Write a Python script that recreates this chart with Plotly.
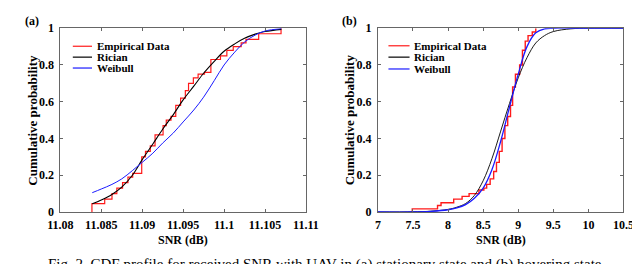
import plotly.graph_objects as go

W, H = 640, 264

# ---------------- data ----------------
# Panel (a): stationary
emp_a_x = [11.08386, 11.08386, 11.08542, 11.08631, 11.08690, 11.08760, 11.08826, 11.08884,
           11.08994, 11.09040, 11.09099, 11.09157, 11.09255, 11.09294, 11.09352, 11.09410,
           11.09469, 11.09527, 11.09566, 11.09625, 11.09683, 11.09761, 11.09839, 11.09956,
           11.10034, 11.10112, 11.10209, 11.10268, 11.10423, 11.10696]
emp_a_y = [0.0, 0.045, 0.07, 0.10, 0.13, 0.16, 0.19, 0.21,
           0.30, 0.33, 0.36, 0.42, 0.47, 0.50, 0.52, 0.58,
           0.62, 0.66, 0.70, 0.73, 0.75, 0.76, 0.83, 0.85,
           0.88, 0.90, 0.92, 0.94, 0.97, 1.00]
ric_a_x = [11.0839, 11.085, 11.0863, 11.0875, 11.0888, 11.09, 11.0913, 11.0925, 11.0938,
           11.095, 11.0963, 11.0975, 11.0988, 11.1, 11.1013, 11.1025, 11.1038, 11.105, 11.107]
ric_a_y = [0.045, 0.065, 0.095, 0.135, 0.20, 0.285, 0.37, 0.45, 0.53,
           0.61, 0.685, 0.755, 0.82, 0.875, 0.915, 0.945, 0.968, 0.982, 0.994]
wei_a_x = [11.0839, 11.085, 11.0863, 11.0875, 11.0888, 11.09, 11.0913, 11.0925, 11.0938,
           11.095, 11.0963, 11.0975, 11.0988, 11.1, 11.1013, 11.1025, 11.1038, 11.105, 11.107]
wei_a_y = [0.105, 0.125, 0.15, 0.18, 0.225, 0.27, 0.32, 0.375, 0.43,
           0.49, 0.555, 0.625, 0.715, 0.80, 0.87, 0.925, 0.963, 0.985, 0.998]

# Panel (b): hovering
emp_b_x = [7.49, 7.49, 7.85, 7.90, 8.08, 8.20, 8.30, 8.44, 8.51, 8.55, 8.60, 8.65, 8.69,
           8.73, 8.77, 8.81, 8.85, 8.89, 8.92, 8.96, 9.02, 9.06, 9.10, 9.14, 9.20, 9.25]
emp_b_y = [0.0, 0.017, 0.035, 0.05, 0.07, 0.085, 0.10, 0.12, 0.13, 0.15, 0.18, 0.22, 0.27,
           0.33, 0.40, 0.47, 0.52, 0.58, 0.68, 0.75, 0.80, 0.88, 0.93, 0.96, 0.98, 1.00]
ric_b_x = [7.0, 7.5, 7.75, 8.0, 8.125, 8.25, 8.375, 8.5, 8.625, 8.75, 8.875, 9.0,
           9.125, 9.25, 9.375, 9.5, 9.75, 10.0, 10.5]
ric_b_y = [0.0, 0.001, 0.004, 0.014, 0.026, 0.046, 0.09, 0.17, 0.29, 0.44, 0.59, 0.73,
           0.84, 0.92, 0.96, 0.982, 0.997, 1.0, 1.0]
wei_b_x = [7.0, 7.5, 7.75, 8.0, 8.125, 8.25, 8.375, 8.5, 8.625, 8.75, 8.875, 9.0,
           9.125, 9.25, 9.375, 9.5, 9.75, 10.0, 10.5]
wei_b_y = [0.0, 0.0, 0.003, 0.012, 0.022, 0.04, 0.075, 0.13, 0.23, 0.385, 0.57, 0.75,
           0.90, 0.975, 0.997, 1.0, 1.0, 1.0, 1.0]

xticks_a = [11.08, 11.085, 11.09, 11.095, 11.1, 11.105, 11.11]
xtext_a = ["11.08", "11.085", "11.09", "11.095", "11.1", "11.105", "11.11"]
xticks_b = [7, 7.5, 8, 8.5, 9, 9.5, 10, 10.5]
xtext_b = ["7", "7.5", "8", "8.5", "9", "9.5", "10", "10.5"]
yticks = [0, 0.2, 0.4, 0.6, 0.8, 1]
ytext = ["0", "0.2", "0.4", "0.6", "0.8", "1"]
legend_names = ["Empirical Data", "Rician", "Weibull"]
panel_labels = ["(a)", "(b)"]
x_title = "SNR (dB)"
y_title = "Cumulative probability"
caption = "Fig. 2. CDF profile for received SNR with UAV in (a) stationary state and (b) hovering state."

# ---------------- layout helpers ----------------
def px(x):
    return x / W

def py(y):
    return 1 - y / H

FONT = "Times New Roman, Liberation Serif, serif"
RED, BLACK, BLUE = "#ff1a1a", "#000000", "#1a1aff"
AX = "#666666"

fig = go.Figure()

fig.add_trace(go.Scatter(x=emp_a_x, y=emp_a_y, mode="lines", line=dict(color=RED, width=1.2, shape="hv"),
                         xaxis="x", yaxis="y", showlegend=False))
fig.add_trace(go.Scatter(x=ric_a_x, y=ric_a_y, mode="lines", line=dict(color=BLACK, width=1.1, shape="spline"),
                         xaxis="x", yaxis="y", showlegend=False))
fig.add_trace(go.Scatter(x=wei_a_x, y=wei_a_y, mode="lines", line=dict(color=BLUE, width=1.0, shape="spline"),
                         xaxis="x", yaxis="y", showlegend=False))

fig.add_trace(go.Scatter(x=emp_b_x, y=emp_b_y, mode="lines", line=dict(color=RED, width=1.4, shape="hv"),
                         xaxis="x2", yaxis="y2", showlegend=False))
fig.add_trace(go.Scatter(x=ric_b_x, y=ric_b_y, mode="lines", line=dict(color=BLACK, width=0.9, shape="spline"),
                         xaxis="x2", yaxis="y2", showlegend=False))
fig.add_trace(go.Scatter(x=wei_b_x, y=wei_b_y, mode="lines", line=dict(color=BLUE, width=1.3, shape="spline"),
                         xaxis="x2", yaxis="y2", showlegend=False))

tickfont = dict(family=FONT, size=12, color="black", weight="bold")
common = dict(showgrid=False, zeroline=False, showline=True, linecolor=AX, linewidth=1,
              mirror="ticks", ticks="inside", ticklen=3, tickcolor=AX, tickfont=tickfont)

fig.update_layout(
    width=W, height=H,
    margin=dict(l=0, r=0, t=0, b=0),
    paper_bgcolor="white", plot_bgcolor="white",
    xaxis=dict(domain=[px(41), px(297)], range=[11.08, 11.11], tickvals=xticks_a, ticktext=xtext_a,
               anchor="y", ticklabelstandoff=2, **common),
    yaxis=dict(domain=[py(208), py(14)], range=[0, 1], tickvals=yticks, ticktext=ytext,
               anchor="x", ticklabelstandoff=3, **common),
    xaxis2=dict(domain=[px(372), px(628)], range=[7, 10.5], tickvals=xticks_b, ticktext=xtext_b,
                anchor="y2", ticklabelstandoff=2, **common),
    yaxis2=dict(domain=[py(208), py(14)], range=[0, 1], tickvals=yticks, ticktext=ytext,
                anchor="x2", ticklabelstandoff=3, **common),
)

annots = []
shapes = []
colors = [RED, BLACK, BLUE]
for (lx0, lx1, tx), rows in [((54, 74, 77), [33, 44.5, 56]), ((383, 405, 408), [32.5, 44.5, 57])]:
    for name, c, ry in zip(legend_names, colors, rows):
        shapes.append(dict(type="line", xref="paper", yref="paper", x0=px(lx0), x1=px(lx1),
                           y0=py(ry), y1=py(ry), line=dict(color=c, width=1.2)))
        annots.append(dict(text=name, xref="paper", yref="paper", x=px(tx), y=py(ry),
                           xanchor="left", yanchor="middle", showarrow=False,
                           font=dict(family=FONT, size=11, color="black", weight="bold")))

for lab, lx in zip(panel_labels, [2, 333]):
    annots.append(dict(text=lab, xref="paper", yref="paper", x=px(lx), y=py(6), xanchor="left",
                       yanchor="middle", showarrow=False,
                       font=dict(family=FONT, size=12, color="black", weight="bold")))

for cx in [169, 500]:
    annots.append(dict(text=x_title, xref="paper", yref="paper", x=px(cx), y=py(238), xanchor="center",
                       yanchor="middle", showarrow=False,
                       font=dict(family=FONT, size=12, color="black", weight="bold")))

for cx in [12, 342]:
    annots.append(dict(text=y_title, xref="paper", yref="paper", x=px(cx), y=py(111), xanchor="center",
                       yanchor="middle", textangle=-90, showarrow=False,
                       font=dict(family=FONT, size=13, color="black", weight="bold")))

annots.append(dict(text=caption, xref="paper", yref="paper", x=px(318), y=py(263), xanchor="center",
                   yanchor="middle", showarrow=False,
                   font=dict(family=FONT, size=15, color="black")))

fig.update_layout(annotations=annots, shapes=shapes)
fig.write_html("out.html")
